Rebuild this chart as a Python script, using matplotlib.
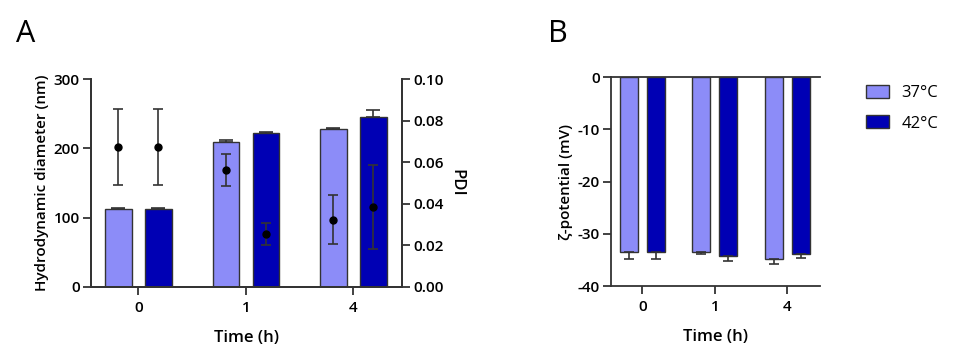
import matplotlib
matplotlib.use("Agg")
import matplotlib.pyplot as plt
import numpy as np
from matplotlib.patches import Patch

plt.rcParams['font.family'] = ['Open Sans', 'DejaVu Sans']
plt.rcParams['axes.unicode_minus'] = False

# ---- data ----
times = ['0', '1', '4']
series = ['37°C', '42°C']
colors = ['#8c8cf8', '#0000b4']

diam_37 = [112, 210, 228.5]
diam_37_err = [2.5, 2.5, 0.6]
diam_42 = [112, 223, 246]
diam_42_err = [2.5, 0.6, 10]

pdi_37 = [0.0674, 0.0563, 0.0322]
pdi_37_err = [0.0185, 0.0076, 0.0118]
pdi_42 = [0.0674, 0.0253, 0.0384]
pdi_42_err = [0.0185, 0.0052, 0.0202]

zeta_37 = [-33.4, -33.4, -34.9]
zeta_37_err = [1.5, 0.5, 0.8]
zeta_42 = [-33.4, -34.3, -33.9]
zeta_42_err = [1.5, 0.9, 0.7]

# ---- figure ----
fig = plt.figure(figsize=(9.55, 3.59), dpi=100)
edge = '#333333'
lw = 1.3
tick_fs = 11
lab_fs = 11
x = np.arange(len(times))
off = 0.186
w = 0.248

def style_ticks(ax):
    ax.tick_params(axis='both', direction='out', length=6, width=lw, color=edge,
                   labelsize=tick_fs, pad=2)
    ax.tick_params(axis='x', pad=4)
    for lbl in ax.get_xticklabels() + ax.get_yticklabels():
        lbl.set_fontweight('semibold')

# Panel A
axA = fig.add_axes([0.0953, 0.2014, 0.3257, 0.5777])
for i, (vals, errs) in enumerate([(diam_37, diam_37_err), (diam_42, diam_42_err)]):
    pos = x + (-off if i == 0 else off)
    axA.bar(pos, vals, width=w, color=colors[i], edgecolor=edge, linewidth=1.0, zorder=2)
    axA.errorbar(pos, vals, yerr=[np.zeros(len(errs)), errs], fmt='none',
                 ecolor=edge, elinewidth=1.2, capsize=5, capthick=1.2, zorder=3)
axA.set_xlim(-0.44, 2.453)
axA.set_ylim(0, 300)
axA.set_yticks([0, 100, 200, 300])
axA.set_xticks(x)
axA.set_xticklabels(times)
axA.spines['top'].set_visible(False)
for s in ['left', 'right', 'bottom']:
    axA.spines[s].set_linewidth(lw)
    axA.spines[s].set_color(edge)
axA.set_ylabel('Hydrodynamic diameter (nm)', fontsize=lab_fs, fontweight='semibold', labelpad=3)
axA.set_xlabel('Time (h)', fontsize=12, fontweight='semibold', labelpad=11)
style_ticks(axA)

axA2 = axA.twinx()
for i, (vals, errs) in enumerate([(pdi_37, pdi_37_err), (pdi_42, pdi_42_err)]):
    pos = x + (-off if i == 0 else off)
    axA2.errorbar(pos, vals, yerr=errs, fmt='o', color='black', markersize=5,
                  ecolor=edge, elinewidth=1.2, capsize=3.3, capthick=1.2, zorder=4)
axA2.set_ylim(0, 0.10)
axA2.set_yticks([0, 0.02, 0.04, 0.06, 0.08, 0.10])
axA2.set_yticklabels(['0.00', '0.02', '0.04', '0.06', '0.08', '0.10'])
axA2.spines['top'].set_visible(False)
for s in ['left', 'right', 'bottom']:
    axA2.spines[s].set_linewidth(lw)
    axA2.spines[s].set_color(edge)
axA2.set_ylabel('PDI', fontsize=12, fontweight='semibold', rotation=-90, labelpad=15)
style_ticks(axA2)

# Panel B
axB = fig.add_axes([0.6398, 0.2033, 0.2188, 0.582])
for i, (vals, errs) in enumerate([(zeta_37, zeta_37_err), (zeta_42, zeta_42_err)]):
    pos = x + (-off if i == 0 else off)
    axB.bar(pos, vals, width=w, color=colors[i], edgecolor=edge, linewidth=1.0,
            zorder=2, label=series[i])
    axB.errorbar(pos, vals, yerr=[errs, np.zeros(len(errs))], fmt='none',
                 ecolor=edge, elinewidth=1.2, capsize=3.6, capthick=1.2, zorder=3)
axB.set_xlim(-0.432, 2.451)
axB.set_ylim(-40, 0)
axB.set_yticks([-40, -30, -20, -10, 0])
axB.set_xticks(x)
axB.set_xticklabels(times)
axB.spines['right'].set_visible(False)
for s in ['left', 'top', 'bottom']:
    axB.spines[s].set_linewidth(lw)
    axB.spines[s].set_color(edge)
axB.set_ylabel('ζ-potential (mV)', fontsize=lab_fs, fontweight='semibold', labelpad=3)
axB.set_xlabel('Time (h)', fontsize=12, fontweight='semibold', labelpad=11)
style_ticks(axB)

handles = [Patch(facecolor=colors[i], edgecolor=edge, linewidth=1.0) for i in range(2)]
fig.legend(handles, series, loc='upper left', bbox_to_anchor=(0.907, 0.763),
           frameon=False, fontsize=12, handlelength=1.35, handleheight=0.8,
           handletextpad=0.75, labelspacing=0.85, borderaxespad=0, borderpad=0)

fig.text(0.017, 1 - 19.5 / 359, 'A', fontsize=22, fontweight='medium', ha='left', va='top')
fig.text(0.574, 1 - 19.5 / 359, 'B', fontsize=22, fontweight='medium', ha='left', va='top')

fig.savefig('out.png', dpi=100, facecolor='white')
